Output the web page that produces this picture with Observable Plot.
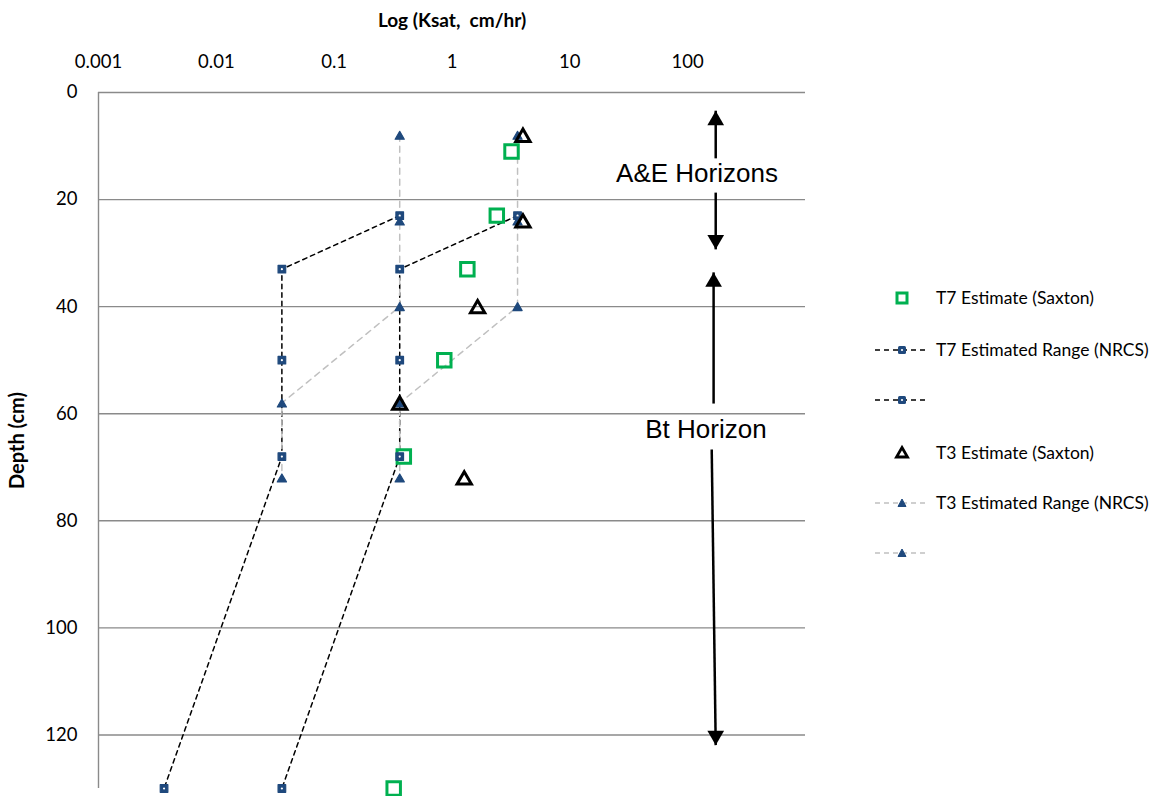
<!DOCTYPE html>
<html>
<head>
<meta charset="utf-8">
<script src="https://cdn.jsdelivr.net/npm/d3@7"></script>
<script src="https://cdn.jsdelivr.net/npm/@observablehq/plot@0.6"></script>
<style>
  body { margin: 0; background: #fff; }
  #chart { position: relative; width: 1157px; height: 796px; overflow: hidden; }
  .legend { position: absolute; left: 0; top: 0; font-family: Lato, "Open Sans", sans-serif; font-size: 17.5px; color: #000; }
  .item { position: absolute; height: 24px; line-height: 24px; white-space: nowrap; }
  .item svg { position: absolute; left: 872px; top: 0; }
  .item span { position: absolute; left: 936px; top: 0; }
  .pre { white-space: pre; }
</style>
</head>
<body>
<div id="chart"></div>
<script>
// ---------- data ----------
const depthTicks = [0, 20, 40, 60, 80, 100, 120];
const kTicks = [0.001, 0.01, 0.1, 1, 10, 100];
const kTickLabels = ["0.001", "0.01", "0.1", "1", "10", "100"];

// T7 estimated range (NRCS) - two bounding series
const t7RangeDepth = [23, 33, 50, 68, 130];
const t7RangeLow = [0.36, 0.036, 0.036, 0.036, 0.0036];
const t7RangeHigh = [3.6, 0.36, 0.36, 0.36, 0.036];

// T3 estimated range (NRCS) - two bounding series
const t3RangeDepth = [8, 24, 40, 58, 72];
const t3RangeLow = [0.36, 0.36, 0.36, 0.036, 0.036];
const t3RangeHigh = [3.6, 3.6, 3.6, 0.36, 0.36];

// Saxton estimates
const t7SaxtonDepth = [11, 23, 33, 50, 68, 130];
const t7SaxtonK = [3.2, 2.4, 1.35, 0.86, 0.39, 0.32];
const t3SaxtonDepth = [8, 24, 40, 58, 72];
const t3SaxtonK = [4.0, 4.0, 1.65, 0.36, 1.27];

// annotations (data units: k, depth)
const annotationText = ["A&E Horizons", "Bt Horizon"];
const annotationK = [120, 143];
const annotationDepth = [15.2, 63];
const arrowK1 = [173, 173, 166, 160];
const arrowDepth1 = [12.3, 18.7, 58.1, 66.7];
const arrowK2 = [173, 173, 166, 173];
const arrowDepth2 = [3.4, 29.3, 33.6, 121.9];
const arrowDir = ["up", "down", "up", "down"];

// legend
const legendLabels = ["T7 Estimate (Saxton)", "T7 Estimated Range (NRCS)", "", "T3 Estimate (Saxton)", "T3 Estimated Range (NRCS)", ""];

// ---------- tables ----------
const t7Range = [
  ...t7RangeDepth.map((d, i) => ({series: "low", depth: d, k: t7RangeLow[i]})),
  ...t7RangeDepth.map((d, i) => ({series: "high", depth: d, k: t7RangeHigh[i]}))
];
const t3Range = [
  ...t3RangeDepth.map((d, i) => ({series: "low", depth: d, k: t3RangeLow[i]})),
  ...t3RangeDepth.map((d, i) => ({series: "high", depth: d, k: t3RangeHigh[i]}))
];
const t7Sax = t7SaxtonDepth.map((d, i) => ({depth: d, k: t7SaxtonK[i]}));
const t3Sax = t3SaxtonDepth.map((d, i) => ({depth: d, k: t3SaxtonK[i]}));
const annotations = annotationText.map((t, i) => ({text: t, k: annotationK[i], depth: annotationDepth[i]}));
const arrows = arrowDir.map((dir, i) => ({dir, k1: arrowK1[i], d1: arrowDepth1[i], k2: arrowK2[i], d2: arrowDepth2[i]}));
const tickLabelMap = new Map(kTicks.map((t, i) => [t, kTickLabels[i]]));

const blue = "#1f497d";
const headR = 6.2;
const headOff = 2 * Math.sqrt(Math.PI / (3 * Math.sqrt(3))) * headR;

const plot = Plot.plot({
  width: 1157,
  height: 796,
  marginLeft: 98,
  marginRight: 352,
  marginTop: 92,
  marginBottom: 8,
  x: {type: "log", domain: [0.001, 1000]},
  y: {domain: [0, 130], reverse: true},
  style: {fontFamily: "Lato, 'Open Sans', sans-serif", color: "#000", background: "#fff", overflow: "visible"},
  marks: [
    Plot.ruleY(depthTicks, {stroke: "#8a8a8a", strokeWidth: 1.4}),
    Plot.ruleX([0.001], {stroke: "#8a8a8a", strokeWidth: 1.4}),
    Plot.axisX({anchor: "top", ticks: kTicks, tickFormat: d => tickLabelMap.get(d), tickSize: 0, tickPadding: 25, fontSize: 18.5, label: null}),
    Plot.axisY({ticks: depthTicks, tickSize: 0, tickPadding: 21, fontSize: 18.5, label: null}),
    Plot.text(["Log (Ksat,  cm/hr)"], {text: d => d, frameAnchor: "top", lineAnchor: "middle", textAnchor: "middle", dy: -72, fontWeight: "bold", fontSize: 19, className: "pre"}),
    Plot.text(["Depth (cm)"], {text: d => d, frameAnchor: "left", textAnchor: "middle", lineAnchor: "middle", dx: -81, rotate: -90, fontWeight: "bold", fontSize: 20}),

    // range lines
    Plot.line(t7Range, {x: "k", y: "depth", z: "series", stroke: "#000", strokeWidth: 1.5, strokeDasharray: "4.5,4"}),
    Plot.line(t3Range, {x: "k", y: "depth", z: "series", stroke: "#c0c0c0", strokeWidth: 1.5, strokeDasharray: "6,5"}),

    // Saxton T7
    Plot.dot(t7Sax, {x: "k", y: "depth", symbol: "square", r: 7.6, fill: "none", stroke: "#00b050", strokeWidth: 3}),

    // range markers
    Plot.dot(t7Range, {x: "k", y: "depth", symbol: "square", r: 4.3, fill: blue, stroke: blue, strokeWidth: 1.2, strokeLinejoin: "round"}),
    Plot.dot(t7Range, {x: "k", y: "depth", r: 1.1, fill: "#fff", stroke: "none"}),
    Plot.dot(t3Range, {x: "k", y: "depth", symbol: "triangle", r: 3.4, dy: 1.3, fill: blue, stroke: blue, strokeWidth: 1.2, strokeLinejoin: "round"}),

    // Saxton T3
    Plot.dot(t3Sax, {x: "k", y: "depth", symbol: "triangle", r: 5.3, dy: 2, fill: "none", stroke: "#000", strokeWidth: 3}),

    // annotations
    Plot.link(arrows, {x1: "k1", y1: "d1", x2: "k2", y2: "d2", stroke: "#000", strokeWidth: 2.5}),
    Plot.dot(arrows.filter(a => a.dir === "up"), {x: "k2", y: "d2", symbol: "triangle", r: headR, dy: headOff, fill: "#000", stroke: "none"}),
    Plot.dot(arrows.filter(a => a.dir === "down"), {x: "k2", y: "d2", symbol: "triangle", rotate: 180, r: headR, dy: -headOff, fill: "#000", stroke: "none"}),
    Plot.text(annotations, {x: "k", y: "depth", text: "text", fontSize: 26, fontFamily: "'Liberation Sans', Arial, sans-serif", fill: "#000"})
  ]
});

const chart = document.getElementById("chart");
chart.appendChild(plot);

// ---------- legend (HTML overlay) ----------
const legendRowsY = [298, 350, 400, 453, 503, 553];
const legend = document.createElement("div");
legend.className = "legend";
const swatches = [
  `<rect x="25" y="7" width="10" height="10" fill="none" stroke="#00b050" stroke-width="3"/>`,
  `<line x1="3" y1="12" x2="53" y2="12" stroke="#000" stroke-width="1.5" stroke-dasharray="5,4"/><rect x="26" y="8" width="8" height="8" rx="1.5" fill="${blue}"/><circle cx="30" cy="12" r="1.1" fill="#fff"/>`,
  `<line x1="3" y1="12" x2="53" y2="12" stroke="#000" stroke-width="1.5" stroke-dasharray="5,4"/><rect x="26" y="8" width="8" height="8" rx="1.5" fill="${blue}"/><circle cx="30" cy="12" r="1.1" fill="#fff"/>`,
  `<path d="M30,6.5 L35.5,16 L24.5,16 Z" fill="none" stroke="#000" stroke-width="2.8"/>`,
  `<line x1="3" y1="12" x2="53" y2="12" stroke="#c0c0c0" stroke-width="1.5" stroke-dasharray="5,4"/><path d="M30,8 L34,15.5 L26,15.5 Z" fill="${blue}" stroke="${blue}" stroke-width="1" stroke-linejoin="round"/>`,
  `<line x1="3" y1="12" x2="53" y2="12" stroke="#c0c0c0" stroke-width="1.5" stroke-dasharray="5,4"/><path d="M30,8 L34,15.5 L26,15.5 Z" fill="${blue}" stroke="${blue}" stroke-width="1" stroke-linejoin="round"/>`
];
legendLabels.forEach((label, i) => {
  const item = document.createElement("div");
  item.className = "item";
  item.style.top = (legendRowsY[i] - 12) + "px";
  item.innerHTML = `<svg width="56" height="24" viewBox="0 0 56 24">${swatches[i]}</svg><span>${label}</span>`;
  legend.appendChild(item);
});
chart.appendChild(legend);
</script>
</body>
</html>
